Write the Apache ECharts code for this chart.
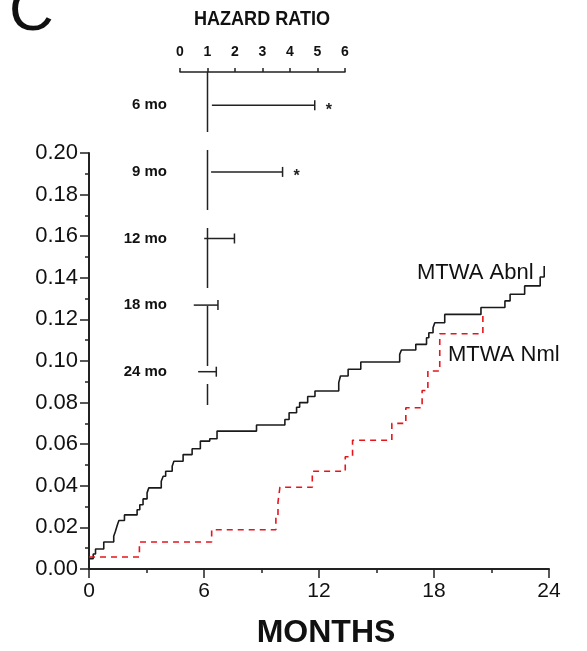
<!DOCTYPE html>
<html><head><meta charset="utf-8">
<script src="https://cdn.jsdelivr.net/npm/echarts@6/dist/echarts.min.js"></script>
<style>html,body{margin:0;padding:0;background:#fff}#c{width:587px;height:651px}</style>
</head><body><div id="c"></div>
<script>
// MTWA Abnl cumulative event curve
const abnlMonths = [0, 0.22, 0.34, 0.77, 1.29, 1.38, 1.47, 1.56, 1.85, 2.51, 2.65, 2.82, 3.03, 3.12, 3.77, 3.87, 4.0, 4.34, 4.43, 4.91, 5.38, 5.81, 6.30, 6.68, 8.74, 10.22, 10.44, 10.83, 10.99, 11.41, 11.79, 13.03, 13.12, 13.52, 14.18, 16.21, 16.30, 17.05, 17.61, 17.73, 17.95, 18.04, 18.56, 20.45, 21.70, 21.97, 22.73, 23.54, 23.75];
const abnlValues = [0.005, 0.0072, 0.0096, 0.013, 0.0157, 0.0181, 0.0209, 0.0233, 0.026, 0.0285, 0.0309, 0.0337, 0.0366, 0.039, 0.0422, 0.0446, 0.047, 0.0494, 0.0518, 0.055, 0.0578, 0.0615, 0.0626, 0.0663, 0.0692, 0.0719, 0.0751, 0.0778, 0.080, 0.0829, 0.0856, 0.0896, 0.0928, 0.096, 0.0995, 0.1032, 0.1053, 0.108, 0.1112, 0.1136, 0.116, 0.1184, 0.1224, 0.1257, 0.1289, 0.1321, 0.1361, 0.1404, 0.1457];
// MTWA Nml cumulative event curve
const nmlMonths = [0, 2.63, 6.4, 9.75, 9.86, 9.96, 11.65, 13.37, 13.75, 15.8, 16.53, 17.38, 17.68, 18.3, 20.55];
const nmlValues = [0.0058, 0.013, 0.0189, 0.0255, 0.032, 0.0393, 0.047, 0.054, 0.0619, 0.070, 0.0775, 0.0858, 0.0952, 0.1131, 0.1224];
// Forest plot (hazard ratios)
const forestLabels = ['6 mo', '9 mo', '12 mo', '18 mo', '24 mo'];
const hrLow = [1.16, 1.13, 0.88, 0.50, 0.66];
const hrHigh = [4.90, 3.73, 1.98, 1.38, 1.32];
const hrSignificant = [1, 1, 0, 0, 0];
const refHR = 1;
const seriesNames = ['MTWA Abnl', 'MTWA Nml'];

const FONT = 'Liberation Sans, Arial, sans-serif';
const chart = echarts.init(document.getElementById('c'), null, {renderer: 'canvas'});
const zip = (a, b) => a.map((v, i) => [v, b[i]]);

chart.setOption({
  animation: false,
  backgroundColor: '#fff',
  grid: [
    {left: 89, right: 38, top: 153, bottom: 82},
    {left: 180, right: 242, top: 72, bottom: 246}
  ],
  xAxis: [
    {gridIndex: 0, type: 'value', min: 0, max: 24, interval: 6,
     axisLine: {show: true, onZero: false, lineStyle: {color: '#222', width: 2}},
     axisTick: {show: true, length: 9, lineStyle: {color: '#222', width: 1.5}},
     minorTick: {show: true, splitNumber: 2, length: 4, lineStyle: {color: '#222', width: 1.5}},
     splitLine: {show: false},
     axisLabel: {fontFamily: FONT, fontSize: 21, color: '#111', margin: 12}},
    {gridIndex: 1, type: 'value', position: 'top', min: 0, max: 6, interval: 1,
     axisLine: {show: true, onZero: false, lineStyle: {color: '#222', width: 1.5}},
     axisTick: {show: true, length: 4, lineStyle: {color: '#222', width: 1.5}},
     splitLine: {show: false},
     axisLabel: {fontFamily: FONT, fontSize: 14, fontWeight: 'bold', color: '#111', margin: 13}}
  ],
  yAxis: [
    {gridIndex: 0, type: 'value', min: 0, max: 0.2, interval: 0.02,
     axisLine: {show: true, onZero: false, lineStyle: {color: '#222', width: 2}},
     axisTick: {show: true, length: 9, lineStyle: {color: '#222', width: 1.5}},
     minorTick: {show: true, splitNumber: 2, length: 4, lineStyle: {color: '#222', width: 1.5}},
     splitLine: {show: false},
     axisLabel: {fontFamily: FONT, fontSize: 22, color: '#111', margin: 11, formatter: v => v.toFixed(2)}},
    {gridIndex: 1, type: 'category', data: forestLabels, inverse: true,
     axisLine: {show: false}, axisTick: {show: false}, splitLine: {show: false},
     axisLabel: {fontFamily: FONT, fontSize: 15, fontWeight: 'bold', color: '#111', margin: 13}}
  ],
  series: [
    {name: seriesNames[0], type: 'line', xAxisIndex: 0, yAxisIndex: 0, step: 'end', showSymbol: false,
     data: zip(abnlMonths, abnlValues), lineStyle: {color: '#1a1a1a', width: 1.6}},
    {name: seriesNames[1], type: 'line', xAxisIndex: 0, yAxisIndex: 0, step: 'end', showSymbol: false,
     data: zip(nmlMonths, nmlValues), lineStyle: {color: '#e8141c', width: 1.6, type: [6, 5]}},
    {type: 'custom', xAxisIndex: 1, yAxisIndex: 1, clip: false,
     data: [[refHR, 0]], encode: {x: 0, y: 1},
     renderItem: function (params, api) {
       const x = api.coord([api.value(0), 0])[0];
       const cs = params.coordSys;
       return {type: 'line', shape: {x1: x, y1: cs.y, x2: x, y2: cs.y + cs.height},
               style: {stroke: '#222', lineWidth: 1.5, lineDash: [60, 18]}};
     }},
    {type: 'custom', xAxisIndex: 1, yAxisIndex: 1, clip: false,
     data: forestLabels.map((l, i) => [hrLow[i], hrHigh[i], i, hrSignificant[i]]),
     encode: {x: [0, 1], y: 2},
     renderItem: function (params, api) {
       const lo = api.coord([api.value(0), api.value(2)]);
       const hi = api.coord([api.value(1), api.value(2)]);
       const children = [
         {type: 'line', shape: {x1: lo[0], y1: lo[1], x2: hi[0], y2: hi[1]}, style: {stroke: '#222', lineWidth: 1.5}},
         {type: 'line', shape: {x1: hi[0], y1: hi[1] - 5, x2: hi[0], y2: hi[1] + 5}, style: {stroke: '#222', lineWidth: 1.5}}
       ];
       if (api.value(3)) {
         children.push({type: 'text', style: {text: '*', x: hi[0] + 14, y: hi[1] + 5, align: 'center', verticalAlign: 'middle',
           font: 'bold 16px ' + FONT, fill: '#222'}});
       }
       return {type: 'group', children: children};
     }}
  ],
  graphic: [
    {type: 'text', x: 9, y: 13, style: {text: 'C', font: '62px ' + FONT, fill: '#111', verticalAlign: 'middle'}},
    {type: 'text', x: 262, y: 19, scaleX: 0.86, style: {text: 'HAZARD RATIO', font: 'bold 21px ' + FONT, fill: '#111', align: 'center', verticalAlign: 'middle'}},
    {type: 'text', x: 326, y: 633, style: {text: 'MONTHS', font: 'bold 32px ' + FONT, fill: '#111', align: 'center', verticalAlign: 'middle'}},
    {type: 'text', x: 417, y: 273, style: {text: seriesNames[0], font: '22px ' + FONT, fill: '#111', verticalAlign: 'middle'}},
    {type: 'text', x: 448, y: 355, style: {text: seriesNames[1], font: '22px ' + FONT, fill: '#111', verticalAlign: 'middle'}}
  ]
});
</script>
</body></html>
